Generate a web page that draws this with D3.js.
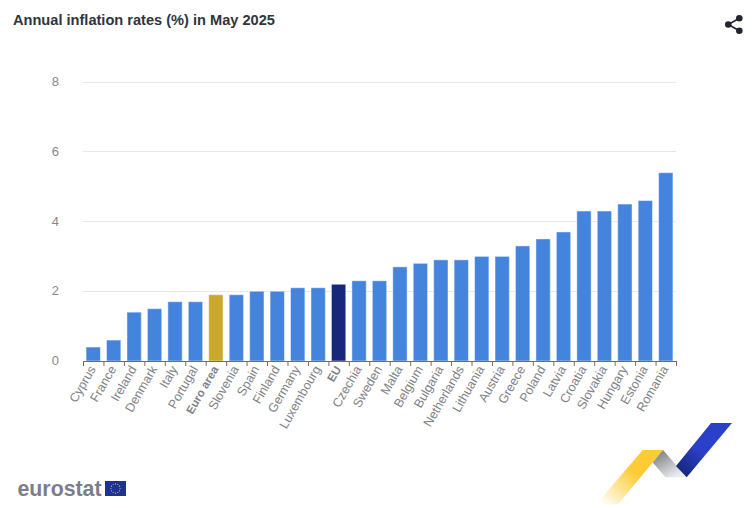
<!DOCTYPE html>
<html><head><meta charset="utf-8">
<script src="https://cdnjs.cloudflare.com/ajax/libs/d3/7.8.5/d3.min.js"></script>
<style>html,body{margin:0;padding:0;background:#fff;overflow:hidden}svg{display:block;font-family:"Liberation Sans",Arial,sans-serif}</style>
</head><body>
<script>
const categories=["Cyprus","France","Ireland","Denmark","Italy","Portugal","Euro area","Slovenia","Spain","Finland","Germany","Luxembourg","EU","Czechia","Sweden","Malta","Belgium","Bulgaria","Netherlands","Lithuania","Austria","Greece","Poland","Latvia","Croatia","Slovakia","Hungary","Estonia","Romania"];
const values=[0.4,0.6,1.4,1.5,1.7,1.7,1.9,1.9,2.0,2.0,2.1,2.1,2.2,2.3,2.3,2.7,2.8,2.9,2.9,3.0,3.0,3.3,3.5,3.7,4.3,4.3,4.5,4.6,5.4];
const yTicks=[0,2,4,6,8];
const highlight={"Euro area":"#c9a82c","EU":"#17287a"};
const barColor="#4484dd";

const svg=d3.select("body").append("svg").attr("width",753).attr("height",508);
const defs=svg.append("defs");
function grad(id,x1,y1,x2,y2,stops){
  const g=defs.append("linearGradient").attr("id",id).attr("gradientUnits","userSpaceOnUse")
    .attr("x1",x1).attr("y1",y1).attr("x2",x2).attr("y2",y2);
  stops.forEach(s=>g.append("stop").attr("offset",s[0]).attr("stop-color",s[1]).attr("stop-opacity",s[2]===undefined?1:s[2]));
}
grad("gy",604,506,634,472,[[0,"#fdcb35",0],[1,"#fdcb35",1]]);
grad("gg",658,455,672,478,[[0,"#88898c"],[1,"#e9ebf0"]]);
grad("gb",682,472,700,450,[[0,"#17287f"],[1,"#2b40c8"]]);

const x=d3.scaleBand().domain(categories).range([83,676]).paddingInner(0.3).paddingOuter(0.15);
const y=d3.scaleLinear().domain([0,8]).range([361,82]);

svg.append("text").attr("x",13).attr("y",25).attr("font-size",14.6).attr("font-weight",700).attr("fill","#30353d")
  .text("Annual inflation rates (%) in May 2025");

const yAxis=d3.axisLeft(y).tickValues(yTicks).tickSize(0).tickPadding(0);
const gy=svg.append("g").attr("transform","translate(59,-1)").call(yAxis);
gy.select(".domain").remove();
gy.selectAll("text").attr("font-size",13).attr("fill","#888").attr("font-family","Liberation Sans,Arial,sans-serif").attr("dy","0.35em");

svg.append("g").selectAll("line").data(yTicks.filter(d=>d>0)).join("line")
  .attr("x1",83).attr("x2",676).attr("y1",d=>Math.floor(y(d))+.5).attr("y2",d=>Math.floor(y(d))+.5).attr("stroke","#e3e8ee");

svg.append("g").selectAll("rect").data(categories).join("rect")
  .attr("x",d=>x(d)).attr("width",x.bandwidth())
  .attr("y",(d,i)=>y(values[i])).attr("height",(d,i)=>y(0)-y(values[i]))
  .attr("fill",d=>highlight[d]||barColor)
  .attr("stroke","#fff").attr("stroke-opacity",.45).attr("stroke-width",1);

const tickPos=d3.range(categories.length+1).map(i=>x.range()[0]+i*(x.range()[1]-x.range()[0])/categories.length);
svg.append("line").attr("x1",83).attr("x2",676.5).attr("y1",361.5).attr("y2",361.5).attr("stroke","#6e6e6e");
svg.append("g").selectAll("line").data(tickPos).join("line")
  .attr("x1",d=>d+.5).attr("x2",d=>d+.5).attr("y1",361).attr("y2",366).attr("stroke","#6e6e6e");

svg.append("g").selectAll("text").data(categories).join("text")
  .attr("transform",d=>`translate(${x(d)+x.bandwidth()/2+3},369) rotate(-60)`)
  .attr("text-anchor","end").attr("fill","#808287")
  .attr("font-weight",d=>highlight[d]?700:400)
  .style("font-size",d=>highlight[d]?"11.5px":"12.6px")
  .text(d=>d);

const share=svg.append("g").attr("fill","#22252e");
share.append("path").attr("d","M739.3 18.3L728.3 24.5L739.3 30.7").attr("fill","none").attr("stroke","#22252e").attr("stroke-width",1.6);
[[739.3,18.3],[728.3,24.5],[739.3,30.7]].forEach(c=>share.append("circle").attr("cx",c[0]).attr("cy",c[1]).attr("r",3.3));

svg.append("path").attr("d","M642.7 450L663 450L618 504.5L596 504.5Z").attr("fill","url(#gy)");
svg.append("path").attr("d","M663 450L686.7 477.3L665.5 477.3L652.7 462.5Z").attr("fill","url(#gg)");
svg.append("path").attr("d","M711 423L732 423L686.7 477.3L676 466Z").attr("fill","url(#gb)");

svg.append("text").attr("x",17.5).attr("y",495.5).attr("font-size",22.5).attr("font-weight",700).attr("fill","#7b7e8a")
  .attr("textLength",84).attr("lengthAdjust","spacingAndGlyphs").text("eurostat");
svg.append("rect").attr("x",105).attr("y",481).attr("width",21).attr("height",15).attr("fill","#1e3391");
const stars=d3.range(12).map(i=>i*30*Math.PI/180);
svg.append("g").selectAll("circle").data(stars).join("circle")
  .attr("cx",a=>115.5+4.6*Math.cos(a)).attr("cy",a=>488.5+4.6*Math.sin(a)).attr("r",.6).attr("fill","#d9c54a");
</script>
</body></html>
